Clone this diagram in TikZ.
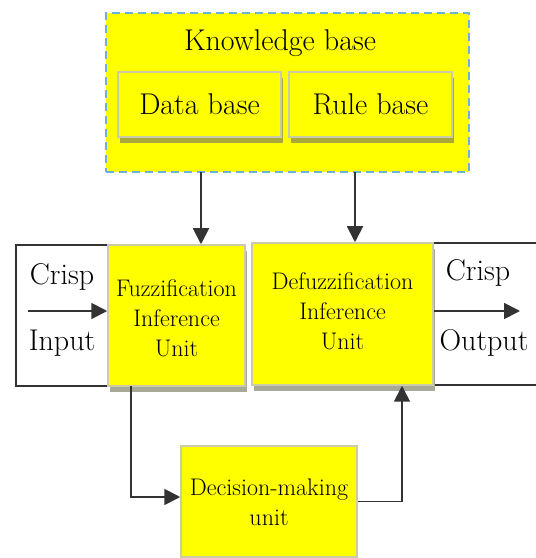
\documentclass[tikz,border=0pt]{standalone}
\usetikzlibrary{arrows.meta,shadows}
\definecolor{boxyellow}{HTML}{FFFF00}
\definecolor{kbdash}{HTML}{6BB3D6}
\definecolor{boxedge}{HTML}{C9CCA6}
\definecolor{olive}{HTML}{A9A93A}
\definecolor{grayshadow}{HTML}{A8AA98}
\definecolor{linegray}{HTML}{333333}
\tikzset{
  big/.style={font=\fontsize{30}{32}\selectfont},
  small/.style={font=\fontsize{24}{30}\selectfont, align=center},
  ybox/.style={draw=boxedge, line width=1.5pt, fill=boxyellow, inner sep=0pt},
  oshadow/.style={drop shadow={shadow xshift=2pt, shadow yshift=-6pt, fill=olive, opacity=1}},
  gshadow/.style={drop shadow={shadow xshift=2pt, shadow yshift=-6pt, fill=grayshadow, opacity=1}},
  wbox/.style={draw=linegray, line width=1.8pt, fill=white, inner sep=0pt},
  arr/.style={draw=linegray, line width=1.8pt, -{Triangle[length=16pt,width=16pt]}},
}
\begin{document}
\begin{tikzpicture}[x=1pt,y=1pt]
\useasboundingbox (0,0) rectangle (536,558);
\fill[white] (0,0) rectangle (536,558);

% knowledge base container
\node[fill=boxyellow, draw=kbdash, line width=2pt, dash pattern=on 8pt off 5pt,
      minimum width=363pt, minimum height=159pt] (kb) at (287.5,465.5) {};
\node[big] (kbtext) at (280,515) {Knowledge base};
\node[ybox, oshadow, minimum width=163pt, minimum height=65pt, big] (db) at (199.5,453.5) {Data base};
\node[ybox, oshadow, minimum width=163pt, minimum height=65pt, big] (rb) at (370.5,453.5) {Rule base};

% crisp input / output frames
\node[wbox, minimum width=92pt, minimum height=141pt] (inbox) at (62,242.5) {};
\node[wbox, minimum width=106pt, minimum height=142pt] (outbox) at (486,244) {};

% processing units
\node[ybox, gshadow, minimum width=137pt, minimum height=141pt] (fuzz) at (176.5,242.5) {};
\node[ybox, gshadow, minimum width=181pt, minimum height=142pt] (defuzz) at (342.5,244) {};
\node[ybox, minimum width=176pt, minimum height=111pt] (dec) at (269,56.5) {};

% unit captions
\node[small] (fuzztext) at (176.5,240) {Fuzzification\\Inference\\Unit};
\node[small] (defuzztext) at (342.5,247) {Defuzzification\\Inference\\Unit};
\node[small] (dectext) at (269,56) {Decision-making\\unit};

% crisp labels
\node[big] (cin) at (62,281) {Crisp};
\node[big] (iin) at (62,215) {Input};
\node[big] (cout) at (478,285) {Crisp};
\node[big] (oout) at (484,215) {Output};

% connector anchors
\coordinate (k1) at (201,386);
\coordinate (k2) at (355,386);
\coordinate (s1) at (28,247);
\coordinate (e1) at (520,247);
\coordinate (d1) at (131,172);
\coordinate (d2) at (402,0);

% connectors
\draw[arr] (k1) -- (k1 |- fuzz.north);
\draw[arr] (k2) -- (k2 |- defuzz.north);
\draw[arr] (s1) -- (s1 -| fuzz.west);
\draw[arr] (s1 -| defuzz.east) -- (e1);
\draw[arr] (d1) |- ([yshift=4.5pt]dec.west);
\draw[arr] (dec.east) -| (d2 |- defuzz.south);
\end{tikzpicture}
\end{document}
